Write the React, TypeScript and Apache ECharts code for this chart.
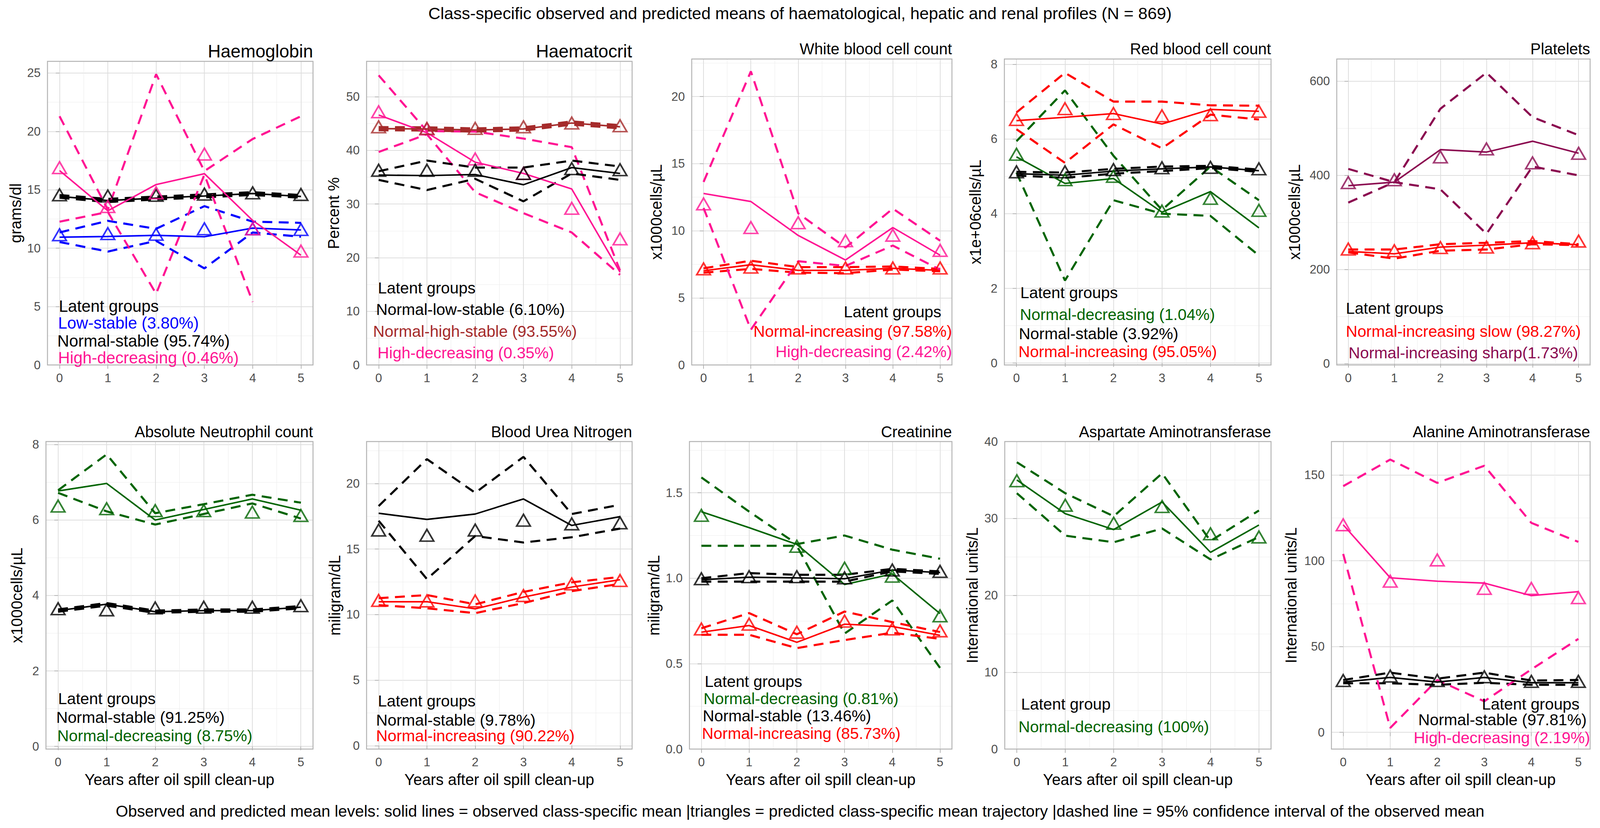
import React, { useEffect, useRef } from "react";
import * as echarts from "echarts";

const REF_W = 4212;
const REF_H = 2119;
const FONT = '"Liberation Sans", Arial, Helvetica, sans-serif';

const years = [0, 1, 2, 3, 4, 5];
const xMajor = [0, 1, 2, 3, 4, 5];
const xMinor = [0.5, 1.5, 2.5, 3.5, 4.5];

// Haemoglobin
const hbLowObs = [10.94, 11.0, 11.1, 10.98, 11.72, 11.56];
const hbLowPred = [11.15, 11.25, 11.19, 11.66, 11.66, 11.6];
const hbLowUp = [11.35, 12.34, 11.66, 13.6, 12.27, 12.17];
const hbLowLo = [10.53, 9.71, 10.63, 8.27, 11.35, 10.98];
const hbNormObs = [14.43, 14.08, 14.29, 14.47, 14.68, 14.43];
const hbNormPred = [14.57, 14.47, 14.53, 14.63, 14.74, 14.6];
const hbNormUp = [14.55, 14.22, 14.42, 14.6, 14.8, 14.55];
const hbNormLo = [14.32, 13.95, 14.17, 14.35, 14.56, 14.32];
const hbHighObs = [16.65, 13.2, 15.45, 16.38, 12.38, 9.4];
const hbHighPred = [16.9, 13.57, 14.74, 18.06, 11.66, 9.75];
const hbHighUp = [21.3, 13.3, 24.9, 16.6, 19.35, 21.3];
const hbHighLo = [12.27, 13.1, 6.1, 16.3, 5.4, null];

// Haematocrit
const hctLowObs = [35.4, 35.3, 35.5, 33.6, 36.8, 35.7];
const hctLowPred = [36.3, 36.3, 36.3, 35.7, 36.6, 36.4];
const hctLowUp = [36.1, 38.1, 36.8, 36.8, 38.1, 37.0];
const hctLowLo = [34.5, 32.6, 34.7, 30.5, 35.7, 34.5];
const hctHiObs = [44.05, 44.0, 43.8, 44.0, 45.1, 44.4];
const hctHiPred = [44.4, 44.1, 44.1, 44.4, 45.1, 44.6];
const hctHiUp = [44.35, 44.3, 44.1, 44.3, 45.4, 44.7];
const hctHiLo = [43.75, 43.7, 43.5, 43.7, 44.8, 44.1];
const hctDecObs = [46.6, 43.3, 37.8, 35.7, 32.8, 17.3];
const hctDecPred = [47.2, 44.0, 38.4, 35.7, 29.2, 23.5];
const hctDecUp = [54.0, 43.6, 43.5, 42.2, 40.6, 17.6];
const hctDecLo = [39.7, 43.0, 32.2, 28.3, 24.7, 16.8];

// White blood cell count
const wbcIncObs = [7.02, 7.47, 7.05, 7.05, 7.2, 7.05];
const wbcIncPred = [7.16, 7.29, 7.23, 7.23, 7.23, 7.23];
const wbcIncUp = [7.2, 7.77, 7.29, 7.29, 7.34, 7.16];
const wbcIncLo = [6.88, 7.16, 6.88, 6.84, 7.11, 6.98];
const wbcDecObs = [12.78, 12.18, 9.65, 7.82, 10.24, 8.18];
const wbcDecPred = [12.0, 10.24, 10.6, 9.26, 9.67, 8.54];
const wbcDecUp = [13.64, 21.88, 11.3, 8.75, 11.65, 9.26];
const wbcDecLo = [11.7, 2.63, 7.73, 7.38, 8.9, 7.1];

// Red blood cell count
const rbcDecObs = [5.52, 4.81, 4.94, 4.04, 4.59, 3.62];
const rbcDecPred = [5.59, 4.91, 5.0, 4.07, 4.41, 4.09];
const rbcDecUp = [5.94, 7.3, 5.55, 4.1, 5.26, 4.36];
const rbcDecLo = [5.1, 2.21, 4.36, 4.0, 3.94, 2.88];
const rbcStObs = [5.07, 5.03, 5.14, 5.2, 5.25, 5.15];
const rbcStPred = [5.12, 5.12, 5.18, 5.23, 5.24, 5.2];
const rbcStUp = [5.12, 5.1, 5.2, 5.26, 5.28, 5.18];
const rbcStLo = [5.02, 4.96, 5.07, 5.14, 5.22, 5.12];
const rbcIncObs = [6.49, 6.58, 6.68, 6.4, 6.79, 6.74];
const rbcIncPred = [6.52, 6.81, 6.68, 6.62, 6.65, 6.74];
const rbcIncUp = [6.71, 7.77, 7.0, 7.0, 6.9, 6.89];
const rbcIncLo = [6.26, 5.36, 6.39, 5.75, 6.65, 6.52];

// Platelets
const pltSlowObs = [238.5, 233.4, 247.7, 251.8, 256.9, 252.8];
const pltSlowPred = [243.6, 240, 246.7, 247.7, 256.9, 260.5];
const pltSlowUp = [242.6, 242.6, 253.8, 256.9, 260.5, 253.8];
const pltSlowLo = [236.5, 223.2, 240, 242.6, 253.8, 251.8];
const pltSharpObs = [378, 385.6, 454.5, 449.4, 472.4, 446.9];
const pltSharpPred = [384.6, 390.7, 439.2, 456.1, 426.5, 446.9];
const pltSharpUp = [413.7, 385.6, 541.4, 618, 523.5, 485.2];
const pltSharpLo = [342.2, 385.6, 370.3, 275.8, 418.8, 399.9];

// Absolute neutrophil count
const ancStObs = [3.6, 3.77, 3.57, 3.6, 3.6, 3.69];
const ancStPred = [3.65, 3.62, 3.67, 3.69, 3.69, 3.73];
const ancStUp = [3.63, 3.8, 3.6, 3.63, 3.63, 3.72];
const ancStLo = [3.57, 3.73, 3.54, 3.57, 3.57, 3.66];
const ancDecObs = [6.77, 6.97, 6.0, 6.28, 6.56, 6.26];
const ancDecPred = [6.37, 6.3, 6.25, 6.25, 6.21, 6.12];
const ancDecUp = [6.79, 7.74, 6.18, 6.42, 6.67, 6.46];
const ancDecLo = [6.72, 6.23, 5.88, 6.16, 6.44, 6.04];

// Blood urea nitrogen
const bunStObs = [17.73, 17.26, 17.67, 18.82, 16.8, 17.47];
const bunStPred = [16.45, 16.05, 16.45, 17.2, 16.92, 17.0];
const bunStUp = [18.28, 21.86, 19.29, 22.03, 17.67, 18.38];
const bunStLo = [17.16, 12.71, 15.99, 15.5, 15.9, 16.56];
const bunIncObs = [10.98, 10.98, 10.44, 11.33, 12.1, 12.66];
const bunIncPred = [11.08, 11.04, 11.04, 11.45, 12.34, 12.6];
const bunIncUp = [11.25, 11.49, 10.78, 11.73, 12.46, 12.87];
const bunIncLo = [10.72, 10.48, 10.11, 10.88, 11.79, 12.34];

// Creatinine
const creDecObs = [1.389, 1.296, 1.198, 0.963, 1.025, 0.793];
const creDecPred = [1.368, null, 1.187, 1.059, 1.012, 0.78];
const creDecUp = [1.59, 1.39, 1.2, 1.25, 1.167, 1.114];
const creDecLo = [1.19, 1.19, 1.19, 0.676, 0.87, 0.475];
const creStObs = [0.991, 1.006, 1.002, 0.997, 1.048, 1.033];
const creStPred = [0.997, 1.009, 1.009, 1.002, 1.048, 1.04];
const creStUp = [1.0, 1.03, 1.02, 1.02, 1.055, 1.04];
const creStLo = [0.98, 0.98, 0.98, 0.98, 1.04, 1.025];
const creIncObs = [0.684, 0.723, 0.625, 0.731, 0.718, 0.666];
const creIncPred = [0.703, 0.731, 0.684, 0.749, 0.703, 0.692];
const creIncUp = [0.707, 0.796, 0.672, 0.805, 0.743, 0.685];
const creIncLo = [0.669, 0.669, 0.591, 0.638, 0.681, 0.645];

// Aspartate aminotransferase
const astObs = [35.0, 30.62, 28.55, 32.14, 25.59, 29.14];
const astPred = [34.9, 31.72, 29.38, 31.55, 28.0, 27.59];
const astUp = [37.31, 33.28, 30.28, 35.86, 27.07, 31.03];
const astLo = [33.28, 27.76, 26.9, 28.69, 24.66, 27.59];

// Alanine aminotransferase
const altStObs = [29.3, 32.0, 29.3, 32.0, 28.9, 28.9];
const altStPred = [30.2, 32.8, 30.2, 32.4, 29.7, 29.7];
const altStUp = [30.5, 34.8, 31.3, 34.8, 30.2, 30.5];
const altStLo = [28.6, 28.6, 27.7, 28.9, 27.7, 27.7];
const altDecObs = [121, 90.1, 88.1, 87.0, 79.7, 82.0];
const altDecPred = [121, 88.1, 100.5, 83.9, 83.9, 78.5];
const altDecUp = [143.5, 159, 145.4, 155.4, 122.1, 111];
const altDecLo = [104, 2.6, 30.5, 18.1, 36.7, 54.5];

const BLUE = "#0000FF";
const PINK = "#FF1493";
const BLACK = "#000000";
const BROWN = "#A52A2A";
const RED = "#FF0000";
const GREEN = "#006400";
const PURPLE = "#8B0A50";

type V = number | null;
type Group = { color: string; obs: V[]; pred: V[]; up: V[]; lo: V[] };
type Leg = { text: string; color: string; x: number; y: number; align?: string };
type Panel = {
  title: string;
  titleSize: number;
  yName: string;
  yMin: number;
  yMax: number;
  yMajor: number[];
  yMinor: number[];
  dec: number;
  box: { l: number; t: number; r: number; b: number; titleY: number; yTitleX: number };
  groups: Group[];
  legend: Leg[];
  legendSize: number;
  xTitle: boolean;
};

const panels: Panel[] = [
  {
    title: "Haemoglobin", titleSize: 47, yName: "grams/dl", yMin: 0, yMax: 26,
    yMajor: [0, 5, 10, 15, 20, 25], yMinor: [2.5, 7.5, 12.5, 17.5, 22.5], dec: 0,
    box: { l: 125, t: 157, r: 824, b: 934, titleY: 131, yTitleX: 41 },
    groups: [
      { color: BLUE, obs: hbLowObs, pred: hbLowPred, up: hbLowUp, lo: hbLowLo },
      { color: BLACK, obs: hbNormObs, pred: hbNormPred, up: hbNormUp, lo: hbNormLo },
      { color: PINK, obs: hbHighObs, pred: hbHighPred, up: hbHighUp, lo: hbHighLo },
    ],
    legendSize: 43,
    legend: [
      { text: "Latent groups", color: BLACK, x: 155, y: 783 },
      { text: "Low-stable (3.80%)", color: BLUE, x: 153, y: 826 },
      { text: "Normal-stable (95.74%)", color: BLACK, x: 151, y: 872 },
      { text: "High-decreasing (0.46%)", color: PINK, x: 153, y: 915 },
    ],
    xTitle: false,
  },
  {
    title: "Haematocrit", titleSize: 47, yName: "Percent %", yMin: 0, yMax: 56.6,
    yMajor: [0, 10, 20, 30, 40, 50], yMinor: [5, 15, 25, 35, 45, 55], dec: 0,
    box: { l: 965, t: 157, r: 1664, b: 934, titleY: 131, yTitleX: 878 },
    groups: [
      { color: PINK, obs: hctDecObs, pred: hctDecPred, up: hctDecUp, lo: hctDecLo },
      { color: BROWN, obs: hctHiObs, pred: hctHiPred, up: hctHiUp, lo: hctHiLo },
      { color: BLACK, obs: hctLowObs, pred: hctLowPred, up: hctLowUp, lo: hctLowLo },
    ],
    legendSize: 42,
    legend: [
      { text: "Latent groups", color: BLACK, x: 995, y: 737 },
      { text: "Normal-low-stable (6.10%)", color: BLACK, x: 990, y: 792 },
      { text: "Normal-high-stable (93.55%)", color: BROWN, x: 982, y: 848 },
      { text: "High-decreasing (0.35%)", color: PINK, x: 994, y: 903 },
    ],
    xTitle: false,
  },
  {
    title: "White blood cell count", titleSize: 41, yName: "x1000cells/\u00b5L", yMin: 0, yMax: 22.8,
    yMajor: [0, 5, 10, 15, 20], yMinor: [2.5, 7.5, 12.5, 17.5, 22.5], dec: 0,
    box: { l: 1821, t: 151, r: 2506, b: 934, titleY: 125, yTitleX: 1728 },
    groups: [
      { color: RED, obs: wbcIncObs, pred: wbcIncPred, up: wbcIncUp, lo: wbcIncLo },
      { color: PINK, obs: wbcDecObs, pred: wbcDecPred, up: wbcDecUp, lo: wbcDecLo },
    ],
    legendSize: 42,
    legend: [
      { text: "Latent groups", color: BLACK, x: 2478, y: 798, align: "right" },
      { text: "Normal-increasing (97.58%)", color: RED, x: 2506, y: 848, align: "right" },
      { text: "High-decreasing (2.42%)", color: PINK, x: 2506, y: 900, align: "right" },
    ],
    xTitle: false,
  },
  {
    title: "Red blood cell count", titleSize: 41, yName: "x1e+06cells/\u00b5L", yMin: -0.05, yMax: 8.14,
    yMajor: [0, 2, 4, 6, 8], yMinor: [1, 3, 5, 7], dec: 0,
    box: { l: 2644, t: 151, r: 3346, b: 934, titleY: 125, yTitleX: 2568 },
    groups: [
      { color: GREEN, obs: rbcDecObs, pred: rbcDecPred, up: rbcDecUp, lo: rbcDecLo },
      { color: BLACK, obs: rbcStObs, pred: rbcStPred, up: rbcStUp, lo: rbcStLo },
      { color: RED, obs: rbcIncObs, pred: rbcIncPred, up: rbcIncUp, lo: rbcIncLo },
    ],
    legendSize: 42,
    legend: [
      { text: "Latent groups", color: BLACK, x: 2686, y: 749 },
      { text: "Normal-decreasing (1.04%)", color: GREEN, x: 2685, y: 805 },
      { text: "Normal-stable (3.92%)", color: BLACK, x: 2682, y: 854 },
      { text: "Normal-increasing (95.05%)", color: RED, x: 2681, y: 900 },
    ],
    xTitle: false,
  },
  {
    title: "Platelets", titleSize: 41, yName: "x1000cells/\u00b5L", yMin: -2.5, yMax: 647,
    yMajor: [0, 200, 400, 600], yMinor: [100, 300, 500], dec: 0,
    box: { l: 3519, t: 151, r: 4186, b: 934, titleY: 125, yTitleX: 3408 },
    groups: [
      { color: RED, obs: pltSlowObs, pred: pltSlowPred, up: pltSlowUp, lo: pltSlowLo },
      { color: PURPLE, obs: pltSharpObs, pred: pltSharpPred, up: pltSharpUp, lo: pltSharpLo },
    ],
    legendSize: 42,
    legend: [
      { text: "Latent groups", color: BLACK, x: 3543, y: 789 },
      { text: "Normal-increasing slow (98.27%)", color: RED, x: 3543, y: 848 },
      { text: "Normal-increasing sharp(1.73%)", color: PURPLE, x: 3550, y: 903 },
    ],
    xTitle: false,
  },
  {
    title: "Absolute Neutrophil count", titleSize: 41, yName: "x1000cells/\u00b5L", yMin: -0.07, yMax: 8.08,
    yMajor: [0, 2, 4, 6, 8], yMinor: [1, 3, 5, 7], dec: 0,
    box: { l: 121, t: 1130, r: 824, b: 1917, titleY: 1105, yTitleX: 44 },
    groups: [
      { color: BLACK, obs: ancStObs, pred: ancStPred, up: ancStUp, lo: ancStLo },
      { color: GREEN, obs: ancDecObs, pred: ancDecPred, up: ancDecUp, lo: ancDecLo },
    ],
    legendSize: 42,
    legend: [
      { text: "Latent groups", color: BLACK, x: 153, y: 1788 },
      { text: "Normal-stable (91.25%)", color: BLACK, x: 148, y: 1836 },
      { text: "Normal-decreasing (8.75%)", color: GREEN, x: 151, y: 1883 },
    ],
    xTitle: true,
  },
  {
    title: "Blood Urea Nitrogen", titleSize: 41, yName: "miligram/dL", yMin: -0.26, yMax: 23.2,
    yMajor: [0, 5, 10, 15, 20], yMinor: [2.5, 7.5, 12.5, 17.5, 22.5], dec: 0,
    box: { l: 965, t: 1130, r: 1664, b: 1917, titleY: 1105, yTitleX: 881 },
    groups: [
      { color: BLACK, obs: bunStObs, pred: bunStPred, up: bunStUp, lo: bunStLo },
      { color: RED, obs: bunIncObs, pred: bunIncPred, up: bunIncUp, lo: bunIncLo },
    ],
    legendSize: 42,
    legend: [
      { text: "Latent groups", color: BLACK, x: 995, y: 1794 },
      { text: "Normal-stable (9.78%)", color: BLACK, x: 990, y: 1843 },
      { text: "Normal-increasing (90.22%)", color: RED, x: 990, y: 1883 },
    ],
    xTitle: true,
  },
  {
    title: "Creatinine", titleSize: 41, yName: "miligram/dL", yMin: 0, yMax: 1.8,
    yMajor: [0, 0.5, 1.0, 1.5], yMinor: [0.25, 0.75, 1.25, 1.75], dec: 1,
    box: { l: 1815, t: 1130, r: 2506, b: 1917, titleY: 1105, yTitleX: 1721 },
    groups: [
      { color: GREEN, obs: creDecObs, pred: creDecPred, up: creDecUp, lo: creDecLo },
      { color: BLACK, obs: creStObs, pred: creStPred, up: creStUp, lo: creStLo },
      { color: RED, obs: creIncObs, pred: creIncPred, up: creIncUp, lo: creIncLo },
    ],
    legendSize: 42,
    legend: [
      { text: "Latent groups", color: BLACK, x: 1855, y: 1744 },
      { text: "Normal-decreasing (0.81%)", color: GREEN, x: 1852, y: 1788 },
      { text: "Normal-stable (13.46%)", color: BLACK, x: 1850, y: 1832 },
      { text: "Normal-increasing (85.73%)", color: RED, x: 1848, y: 1877 },
    ],
    xTitle: true,
  },
  {
    title: "Aspartate Aminotransferase", titleSize: 41, yName: "International units/L", yMin: 0, yMax: 40,
    yMajor: [0, 10, 20, 30, 40], yMinor: [5, 15, 25, 35], dec: 0,
    box: { l: 2645, t: 1130, r: 3346, b: 1917, titleY: 1105, yTitleX: 2559 },
    groups: [{ color: GREEN, obs: astObs, pred: astPred, up: astUp, lo: astLo }],
    legendSize: 42,
    legend: [
      { text: "Latent group", color: BLACK, x: 2688, y: 1802 },
      { text: "Normal-decreasing (100%)", color: GREEN, x: 2681, y: 1860 },
    ],
    xTitle: true,
  },
  {
    title: "Alanine Aminotransferase", titleSize: 41, yName: "International units/L", yMin: -9.75, yMax: 169.5,
    yMajor: [0, 50, 100, 150], yMinor: [25, 75, 125], dec: 0,
    box: { l: 3505, t: 1130, r: 4186, b: 1917, titleY: 1105, yTitleX: 3399 },
    groups: [
      { color: BLACK, obs: altStObs, pred: altStPred, up: altStUp, lo: altStLo },
      { color: PINK, obs: altDecObs, pred: altDecPred, up: altDecUp, lo: altDecLo },
    ],
    legendSize: 42,
    legend: [
      { text: "Latent groups", color: BLACK, x: 4158, y: 1802, align: "right" },
      { text: "Normal-stable (97.81%)", color: BLACK, x: 4177, y: 1842, align: "right" },
      { text: "High-decreasing (2.19%)", color: PINK, x: 4186, y: 1888, align: "right" },
    ],
    xTitle: true,
  },
];

const mainTitle =
  "Class-specific observed and predicted means of haematological, hepatic and renal profiles (N = 869)";
const caption =
  "Observed and predicted mean levels: solid lines = observed class-specific mean |triangles = predicted class-specific mean trajectory |dashed line = 95% confidence interval of the observed mean";
const xTitleText = "Years after oil spill clean-up";

export default function App() {
  const ref = useRef<HTMLDivElement>(null);
  useEffect(() => {
    const el = ref.current;
    if (!el) return;
    const vw = el.clientWidth || window.innerWidth || REF_W;
    const vh = el.clientHeight || window.innerHeight || REF_H;
    const sx = vw / REF_W;
    const sy = vh / REF_H;
    const fs = Math.min(sx, sy);
    const X = (v: number) => v * sx;
    const Y = (v: number) => v * sy;
    const F = (v: number) => v * fs;

    const textEl = (
      text: string, x: number, y: number, size: number, color: string,
      align: string = "left", rotation = 0
    ) => ({
      type: "text",
      x: X(x), y: Y(y), rotation, z: 100, silent: true,
      style: {
        text, x: 0, y: 0, fill: color, fontSize: F(size), fontFamily: FONT,
        align, verticalAlign: "middle", textAlign: align, textVerticalAlign: "middle",
      },
    });

    const chart = echarts.init(el, null, { renderer: "svg", width: vw, height: vh });
    const grid: any[] = [];
    const xAxis: any[] = [];
    const yAxis: any[] = [];
    const series: any[] = [];
    const graphic: any[] = [];

    const tickStyle = { color: "#b3b3b3", width: F(2) };
    const majorGrid = { color: "#dedede", width: F(2) };
    const minorGrid = { color: "#ededed", width: F(1.2) };
    const labelStyle = { fontSize: F(32), color: "#4d4d4d", fontFamily: FONT, margin: F(18) };

    panels.forEach((p, i) => {
      const b = p.box;
      grid.push({
        left: X(b.l), top: Y(b.t), width: X(b.r - b.l), height: Y(b.b - b.t),
        show: false, containLabel: false, outerBoundsMode: "none",
      });
      xAxis.push({
        type: "value", gridIndex: i, min: -0.25, max: 5.25, position: "bottom",
        axisLine: { show: false },
        axisTick: { show: true, customValues: xMajor, length: F(10), lineStyle: tickStyle },
        axisLabel: { show: true, customValues: xMajor, ...labelStyle },
        splitLine: { show: true, lineStyle: majorGrid },
      });
      xAxis.push({
        type: "value", gridIndex: i, min: -0.25, max: 5.25, position: "bottom",
        axisLine: { show: false },
        axisTick: { show: false, customValues: xMinor },
        axisLabel: { show: false, customValues: xMinor },
        splitLine: { show: true, lineStyle: minorGrid },
      });
      yAxis.push({
        type: "value", gridIndex: i, min: p.yMin, max: p.yMax, position: "left",
        axisLine: { show: false },
        axisTick: { show: true, customValues: p.yMajor, length: F(10), lineStyle: tickStyle },
        axisLabel: {
          show: true, customValues: p.yMajor, ...labelStyle,
          formatter: (v: number) => v.toFixed(p.dec),
        },
        splitLine: { show: true, lineStyle: majorGrid },
      });
      yAxis.push({
        type: "value", gridIndex: i, min: p.yMin, max: p.yMax, position: "right",
        axisLine: { show: false },
        axisTick: { show: false, customValues: p.yMinor },
        axisLabel: { show: false, customValues: p.yMinor },
        splitLine: { show: true, lineStyle: minorGrid },
      });

      const xi = i * 2;
      const yi = i * 2;
      const toData = (arr: V[]) => years.map((x, k) => [x, arr[k]]);
      p.groups.forEach((g) => {
        [g.up, g.lo].forEach((arr) => {
          series.push({
            type: "line", xAxisIndex: xi, yAxisIndex: yi, data: toData(arr),
            symbol: "none", showSymbol: false, silent: true, connectNulls: false,
            lineStyle: { color: g.color, width: F(5.5), type: [F(26), F(17)], cap: "butt" },
            z: 3,
          });
        });
      });
      p.groups.forEach((g) => {
        series.push({
          type: "line", xAxisIndex: xi, yAxisIndex: yi, data: toData(g.obs),
          symbol: "none", showSymbol: false, silent: true,
          lineStyle: { color: g.color, width: F(4), type: "solid" },
          z: 4,
        });
      });
      p.groups.forEach((g) => {
        series.push({
          type: "scatter", xAxisIndex: xi, yAxisIndex: yi,
          data: years.map((x, k) => [x, g.pred[k]]).filter((d) => d[1] !== null),
          symbol: "triangle", symbolSize: [F(36), F(31)], silent: true,
          itemStyle: { color: "rgba(0,0,0,0)", borderColor: g.color, borderWidth: F(4.2) },
          z: 5,
        });
      });

      graphic.push({
        type: "rect", z: 90, silent: true,
        shape: { x: X(b.l), y: Y(b.t), width: X(b.r - b.l), height: Y(b.b - b.t) },
        style: { fill: "none", stroke: "#b3b3b3", lineWidth: F(2.5) },
      });
      graphic.push(textEl(p.title, b.r, b.titleY, p.titleSize, BLACK, "right"));
      graphic.push(textEl(p.yName, b.yTitleX, (b.t + b.b) / 2, 41, BLACK, "center", Math.PI / 2));
      if (p.xTitle) {
        graphic.push(textEl(xTitleText, (b.l + b.r) / 2, 1995, 41, BLACK, "center"));
      }
      p.legend.forEach((lg) => {
        graphic.push(textEl(lg.text, lg.x, lg.y, p.legendSize, lg.color, lg.align || "left"));
      });
    });

    graphic.push(textEl(mainTitle, REF_W / 2, 34, 44, BLACK, "center"));
    graphic.push(textEl(caption, 2106, 2076, 42, BLACK, "center"));

    chart.setOption({
      animation: false,
      backgroundColor: "#ffffff",
      textStyle: { fontFamily: FONT },
      grid, xAxis, yAxis, series, graphic,
    });
    return () => chart.dispose();
  }, []);

  return (
    <div
      ref={ref}
      style={{ position: "fixed", left: 0, top: 0, width: "100vw", height: "100vh", background: "#ffffff" }}
    />
  );
}
